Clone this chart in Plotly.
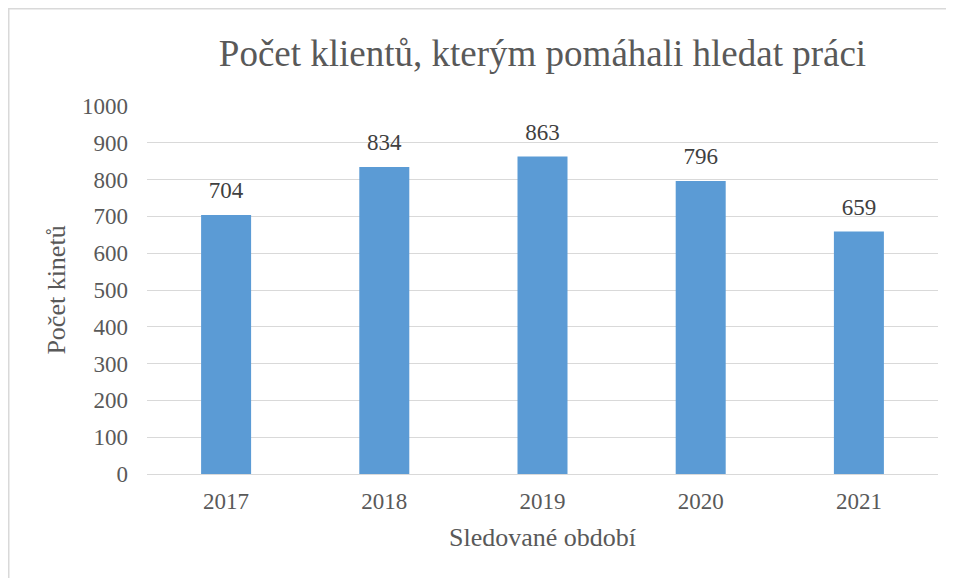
import plotly.graph_objects as go

years = ["2017", "2018", "2019", "2020", "2021"]
clients = [704, 834, 863, 796, 659]
y_ticks = [0, 100, 200, 300, 400, 500, 600, 700, 800, 900, 1000]

FONT = "Liberation Serif"
TXT = "#595959"

# page body has an 8px margin; figure is sized accordingly
W, H = 946, 570
L, R, T, B = 139, 16, 98, 104
PW, PH = W - L - R, H - T - B

fig = go.Figure()
fig.add_trace(go.Bar(
    x=years, y=clients,
    marker=dict(color="#5B9BD5", line=dict(width=0)),
    hoverinfo="x+y",
))
# value labels sitting above each bar (invisible marker pads the gap)
fig.add_trace(go.Scatter(
    x=years, y=clients, mode="markers+text",
    text=[str(v) for v in clients], textposition="top center",
    marker=dict(size=16, opacity=0),
    textfont=dict(family=FONT, size=23, color="#404040"),
    cliponaxis=False, hoverinfo="skip",
))

fig.update_layout(
    width=W, height=H,
    paper_bgcolor="white", plot_bgcolor="white",
    margin=dict(l=L, r=R, t=T, b=B, autoexpand=False),
    bargap=0.684,
    showlegend=False,
    title=dict(text="Počet klientů, kterým pomáhali hledat práci",
               x=0.5, xanchor="center", xref="paper", y=1 - 45 / H, yanchor="middle",
               font=dict(family=FONT, size=37, color=TXT)),
    font=dict(family=FONT, color=TXT),
)
fig.update_yaxes(
    range=[0, 1000], tickvals=y_ticks, showgrid=True, gridcolor="#D9D9D9", gridwidth=1,
    zeroline=False, showline=False, ticks="", ticklabelstandoff=18,
    tickfont=dict(family=FONT, size=23, color=TXT),
    title=dict(text="Počet kinetů", font=dict(family=FONT, size=26, color=TXT), standoff=8),
)
fig.update_xaxes(
    type="category",
    showline=True, linecolor="#D9D9D9", linewidth=1, ticks="",
    ticklabelstandoff=6,
    tickfont=dict(family=FONT, size=23, color=TXT),
    title=dict(text="Sledované období", font=dict(family=FONT, size=26, color=TXT), standoff=15),
)
fig.add_shape(type="rect", xref="paper", yref="paper",
              x0=(0.75 - L) / PW, x1=(W + 20 - L) / PW,
              y0=-(B + 20) / PH, y1=(PH + T - 0.75) / PH,
              line=dict(color="#D9D9D9", width=1.5), fillcolor="rgba(0,0,0,0)", layer="below")

fig.write_html("out.html")
